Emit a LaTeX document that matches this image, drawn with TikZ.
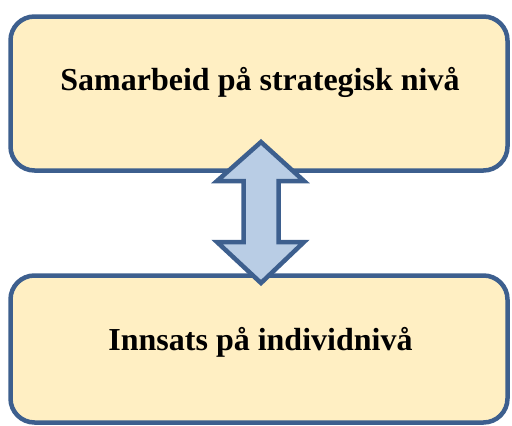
\documentclass[tikz,border=0pt]{standalone}
\usepackage{fontspec}
\setmainfont{Liberation Serif}
\definecolor{boxfill}{HTML}{FFEFC3}
\definecolor{boxline}{HTML}{3D5F8E}
\definecolor{arrowfill}{HTML}{B9CDE5}
\begin{document}
\begin{tikzpicture}[x=1pt,y=-1pt,
  levelbox/.style={draw=boxline, fill=boxfill, line width=4.5pt, rounded corners=24pt},
  leveltext/.style={anchor=base, inner sep=0pt, font=\fontsize{32}{36}\selectfont\bfseries},
  dblarrow/.style={draw=boxline, fill=arrowfill, line width=4.5pt, line join=miter}]
\useasboundingbox (0,0) rectangle (512,426);
\draw[levelbox] (10.5,16.5) rectangle (507.5,170.5);
\coordinate (topbox) at (259,93.5);
\draw[levelbox] (10.5,275.5) rectangle (507.5,422.5);
\coordinate (botbox) at (259,348);
\node[leveltext] (toptext) at (260,90) {Samarbeid på strategisk nivå};
\node[leveltext] (bottext) at (260.5,350) {Innsats på individnivå};
\draw[dblarrow] (261,142) -- (304,181) -- (278.5,181) -- (278.5,242) -- (304,242)
  -- (261,283) -- (217,242) -- (243.5,242) -- (243.5,181) -- (217,181) -- cycle;
\end{tikzpicture}
\end{document}
